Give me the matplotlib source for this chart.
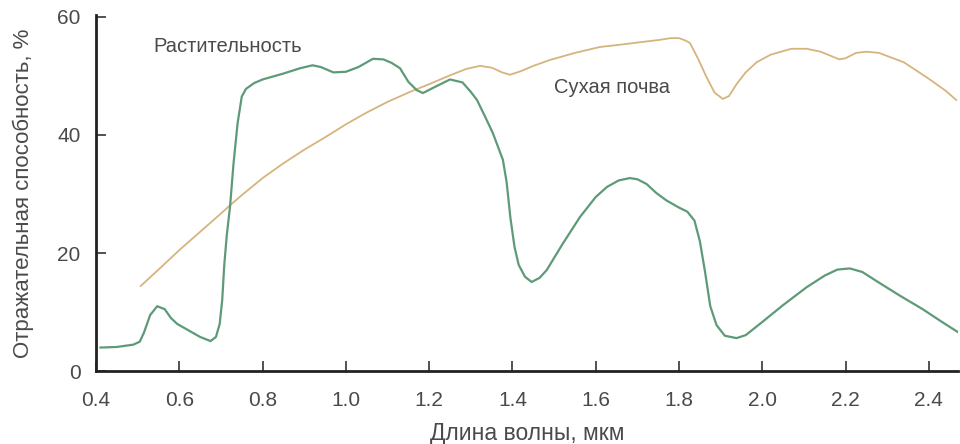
import matplotlib
matplotlib.use("Agg")
import matplotlib.pyplot as plt

plt.rcParams['font.family'] = ['Liberation Sans', 'DejaVu Sans']

# Vegetation reflectance spectrum (wavelength, µm ; reflectance, %)
veg_x = [0.41, 0.45, 0.49, 0.505, 0.515, 0.53, 0.547, 0.565, 0.58, 0.595, 0.62, 0.65,
         0.675, 0.688, 0.697, 0.703, 0.708, 0.714, 0.722, 0.73, 0.74, 0.75, 0.76, 0.78,
         0.80, 0.85, 0.89, 0.92, 0.94, 0.97, 1.00, 1.03, 1.065, 1.09, 1.11, 1.13, 1.15,
         1.17, 1.185, 1.21, 1.25, 1.28, 1.30, 1.315, 1.335, 1.353, 1.377, 1.386, 1.395,
         1.405, 1.415, 1.43, 1.446, 1.465, 1.482, 1.52, 1.562, 1.60, 1.627, 1.655, 1.682,
         1.70, 1.722, 1.745, 1.77, 1.80, 1.82, 1.837, 1.85, 1.862, 1.875, 1.89, 1.91,
         1.938, 1.96, 1.994, 2.05, 2.106, 2.15, 2.18, 2.21, 2.24, 2.28, 2.33, 2.385,
         2.43, 2.47]
veg_y = [4.0, 4.1, 4.5, 5.0, 6.5, 9.5, 11.0, 10.5, 9.0, 8.0, 7.0, 5.8,
         5.1, 5.8, 8.0, 12.0, 18.0, 23.0, 28.0, 35.0, 42.0, 46.5, 47.8, 48.8,
         49.4, 50.4, 51.3, 51.8, 51.5, 50.6, 50.7, 51.5, 52.9, 52.8, 52.2, 51.3, 49.0,
         47.6, 47.1, 48.0, 49.4, 48.9, 47.3, 45.9, 43.0, 40.3, 35.8, 32.0, 26.0,
         21.0, 18.0, 16.0, 15.1, 15.8, 17.1, 21.5, 26.1, 29.5, 31.2, 32.3, 32.7,
         32.5, 31.7, 30.2, 28.9, 27.7, 27.0, 25.5, 22.0, 17.0, 11.0, 7.8, 6.0,
         5.6, 6.1, 8.0, 11.2, 14.2, 16.2, 17.2, 17.4, 16.8, 15.0, 12.8, 10.5,
         8.4, 6.6]

# Dry soil reflectance spectrum
soil_x = [0.507, 0.55, 0.60, 0.65, 0.70, 0.722, 0.75, 0.80, 0.85, 0.90, 0.95, 1.00,
          1.05, 1.10, 1.154, 1.20, 1.25, 1.29, 1.322, 1.35, 1.375, 1.394, 1.42, 1.45,
          1.49, 1.55, 1.61, 1.66, 1.706, 1.753, 1.78, 1.80, 1.815, 1.826, 1.845, 1.866,
          1.885, 1.905, 1.92, 1.938, 1.96, 1.986, 2.02, 2.07, 2.106, 2.14, 2.185, 2.20,
          2.225, 2.25, 2.28, 2.34, 2.40, 2.44, 2.466]
soil_y = [14.4, 17.2, 20.5, 23.6, 26.7, 28.1, 29.8, 32.7, 35.2, 37.5, 39.6, 41.8,
          43.8, 45.6, 47.3, 48.6, 50.1, 51.2, 51.7, 51.4, 50.6, 50.2, 50.8, 51.7,
          52.7, 53.9, 54.9, 55.3, 55.7, 56.1, 56.4, 56.4, 56.0, 55.6, 53.0, 49.8,
          47.2, 46.1, 46.6, 48.6, 50.6, 52.3, 53.6, 54.6, 54.6, 54.1, 52.8, 53.0,
          53.9, 54.1, 53.9, 52.3, 49.5, 47.5, 45.9]

x_ticks = [0.4, 0.6, 0.8, 1.0, 1.2, 1.4, 1.6, 1.8, 2.0, 2.2, 2.4]
y_ticks = [0, 20, 40, 60]

text_color = '#4a4a4a'

fig = plt.figure(figsize=(9.6, 4.44), dpi=100)
ax = fig.add_axes([0.1, 0.164, 0.898, 0.802])

ax.plot(soil_x, soil_y, color='#d6b47e', lw=1.3, solid_capstyle='round')
ax.plot(veg_x, veg_y, color='#5e9a78', lw=1.6, solid_capstyle='round')

ax.set_xlim(0.4, 2.47)
ax.set_ylim(0, 60.3)
ax.set_xticks(x_ticks)
ax.set_xticklabels([f"{v:.1f}" for v in x_ticks])
ax.set_yticks(y_ticks)

for side in ('top', 'right'):
    ax.spines[side].set_visible(False)
for side in ('left', 'bottom'):
    ax.spines[side].set_linewidth(2.0)
    ax.spines[side].set_color('#222222')

ax.tick_params(direction='in', length=7, width=1.2, color='#333333',
               labelsize=15, labelcolor=text_color)
ax.tick_params(axis='x', pad=14)
ax.tick_params(axis='y', pad=11)

ax.set_xlabel('Длина волны, мкм', fontsize=16.5, color=text_color)
ax.set_ylabel('Отражательная способность, %', fontsize=16, color=text_color)
ax.xaxis.set_label_coords(0.5, -0.143)
ax.yaxis.set_label_coords(-0.072, 0.5)

ax.text(0.717, 54.9, 'Растительность', fontsize=14.5, color=text_color,
        ha='center', va='center')
ax.text(1.638, 48.0, 'Сухая почва', fontsize=14.5, color=text_color,
        ha='center', va='center')

fig.savefig('out.png', dpi=100)
